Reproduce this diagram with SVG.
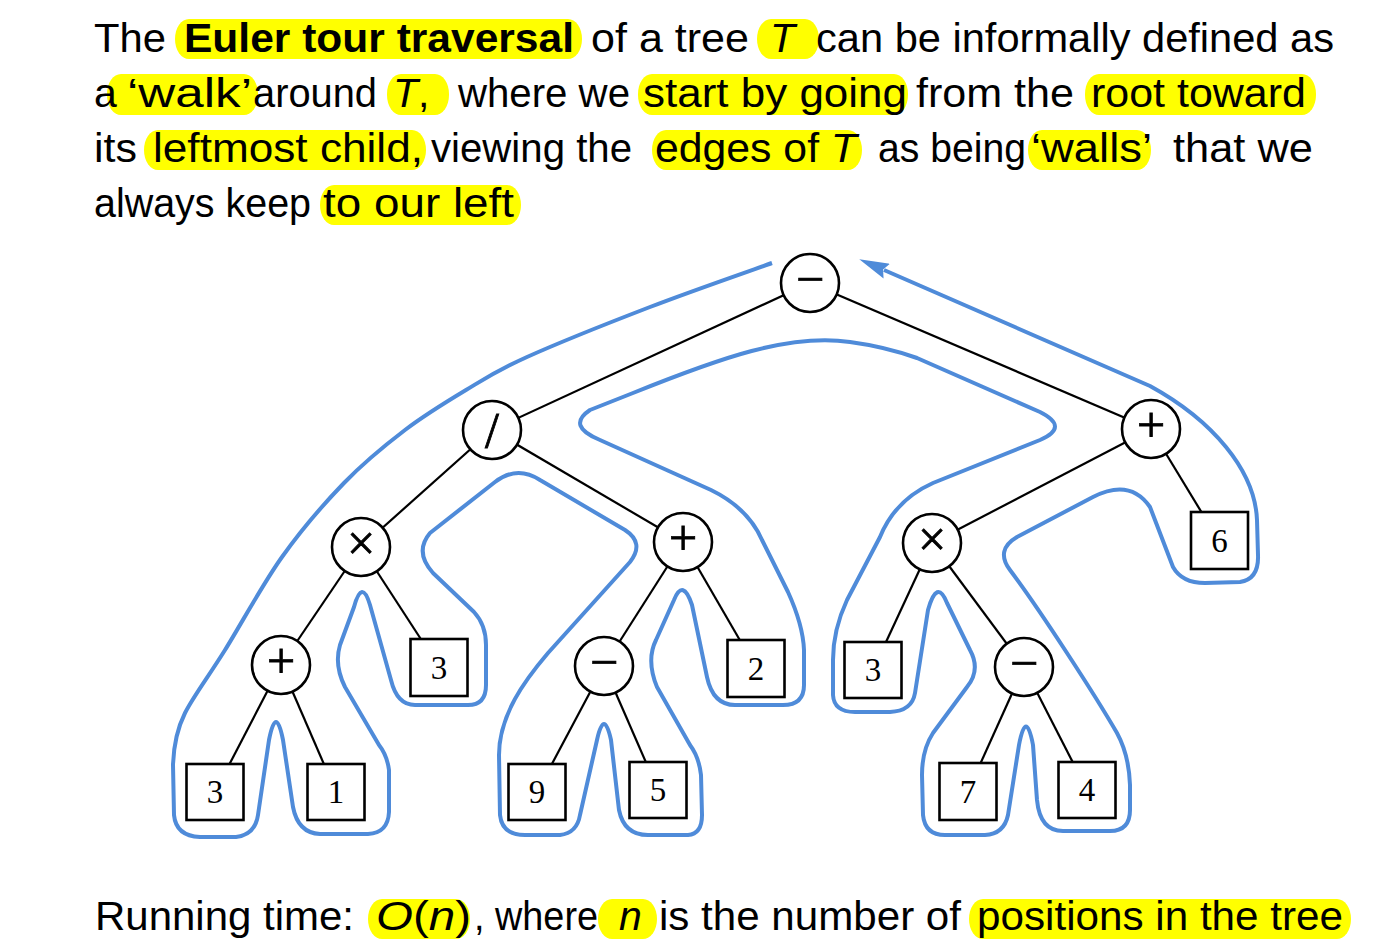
<svg xmlns="http://www.w3.org/2000/svg" width="1397" height="944" viewBox="0 0 1397 944">
<style>
.t{font-family:"Liberation Sans",Arial,sans-serif;font-size:41px;fill:#000}
.b{font-weight:bold}
.i{font-style:italic}
.hl{fill:#ffff00}
.edge{stroke:#000;stroke-width:2.2;fill:none}
.nd{fill:#fff;stroke:#000;stroke-width:2.6}
.op{font-family:"Liberation Serif","Times New Roman",serif;font-size:50px;text-anchor:middle;fill:#000;stroke:#000;stroke-width:0.8}
.num{font-family:"Liberation Serif","Times New Roman",serif;font-size:33px;text-anchor:middle;fill:#000}
.tour{fill:none;stroke:#4f8bd9;stroke-width:4;stroke-linejoin:round;stroke-linecap:butt}
</style>
<defs>
<marker id="arr" markerUnits="userSpaceOnUse" markerWidth="30" markerHeight="16" viewBox="0 0 30 16" refX="3" refY="8" orient="auto">
<path d="M0,0 L30,8 L0,16 L4,8 Z" fill="#4f8bd9"/>
</marker>
</defs>
<rect width="1397" height="944" fill="#fff"/>
<g id="highlights">
<rect class="hl" x="175" y="19" width="407" height="40" rx="14" ry="20"/>
<rect class="hl" x="757" y="19" width="62" height="40" rx="14" ry="20"/>
<rect class="hl" x="107" y="74" width="151" height="41" rx="14" ry="20"/>
<rect class="hl" x="387" y="74" width="62" height="41" rx="14" ry="20"/>
<rect class="hl" x="638" y="74" width="270" height="41" rx="14" ry="20"/>
<rect class="hl" x="1085" y="74" width="231" height="41" rx="14" ry="20"/>
<rect class="hl" x="144" y="130" width="282" height="40" rx="14" ry="20"/>
<rect class="hl" x="652" y="130" width="210" height="40" rx="14" ry="20"/>
<rect class="hl" x="1028" y="130" width="123" height="40" rx="14" ry="20"/>
<rect class="hl" x="320" y="185" width="201" height="40" rx="14" ry="20"/>
<rect class="hl" x="368" y="899" width="102" height="40" rx="14" ry="20"/>
<rect class="hl" x="598" y="899" width="59" height="40" rx="14" ry="20"/>
<rect class="hl" x="969" y="899" width="382" height="40" rx="14" ry="20"/>
</g>
<g id="text">
<text class="t" x="94" y="52" textLength="72" lengthAdjust="spacingAndGlyphs">The</text>
<text class="t b" x="184" y="52" textLength="390" lengthAdjust="spacingAndGlyphs">Euler tour traversal</text>
<text class="t" x="591" y="52" textLength="158" lengthAdjust="spacingAndGlyphs">of a tree</text>
<text class="t i" x="770" y="52">T</text>
<text class="t" x="816" y="52" textLength="518" lengthAdjust="spacingAndGlyphs">can be informally defined as</text>

<text class="t" x="94" y="107">a</text>
<text class="t" x="127" y="107" textLength="125" lengthAdjust="spacingAndGlyphs">‘walk’</text>
<text class="t" x="253" y="107" textLength="124" lengthAdjust="spacingAndGlyphs">around</text>
<text class="t" x="393" y="107"><tspan class="i">T</tspan>,</text>
<text class="t" x="458" y="107" textLength="172" lengthAdjust="spacingAndGlyphs">where we</text>
<text class="t" x="643" y="107" textLength="264" lengthAdjust="spacingAndGlyphs">start by going</text>
<text class="t" x="916" y="107" textLength="158" lengthAdjust="spacingAndGlyphs">from the</text>
<text class="t" x="1091" y="107" textLength="215" lengthAdjust="spacingAndGlyphs">root toward</text>

<text class="t" x="94" y="162" textLength="43" lengthAdjust="spacingAndGlyphs">its</text>
<text class="t" x="153" y="162" textLength="270" lengthAdjust="spacingAndGlyphs">leftmost child,</text>
<text class="t" x="431" y="162" textLength="201" lengthAdjust="spacingAndGlyphs">viewing the</text>
<text class="t" x="655" y="162" textLength="202" lengthAdjust="spacingAndGlyphs">edges of <tspan class="i">T</tspan></text>
<text class="t" x="878" y="162" textLength="148" lengthAdjust="spacingAndGlyphs">as being</text>
<text class="t" x="1031" y="162" textLength="121" lengthAdjust="spacingAndGlyphs">‘walls’</text>
<text class="t" x="1173" y="162" textLength="140" lengthAdjust="spacingAndGlyphs">that we</text>

<text class="t" x="94" y="217" textLength="217" lengthAdjust="spacingAndGlyphs">always keep</text>
<text class="t" x="323" y="217" textLength="191" lengthAdjust="spacingAndGlyphs">to our left</text>

<text class="t" x="95" y="930" textLength="259" lengthAdjust="spacingAndGlyphs">Running time:</text>
<text class="t" x="376" y="930" textLength="95" lengthAdjust="spacingAndGlyphs"><tspan class="i">O</tspan>(<tspan class="i">n</tspan>)</text>
<text class="t" x="474" y="930" textLength="124" lengthAdjust="spacingAndGlyphs">, where</text>
<text class="t i" x="619" y="930">n</text>
<text class="t" x="659" y="930" textLength="302" lengthAdjust="spacingAndGlyphs">is the number of</text>
<text class="t" x="977" y="930" textLength="366" lengthAdjust="spacingAndGlyphs">positions in the tree</text>
</g>
<g id="connectors">
<line class="edge" x1="810" y1="283" x2="492" y2="430"/>
<line class="edge" x1="810" y1="283" x2="1151" y2="429"/>
<line class="edge" x1="492" y1="430" x2="361" y2="547"/>
<line class="edge" x1="492" y1="430" x2="683" y2="542"/>
<line class="edge" x1="361" y1="547" x2="281" y2="665"/>
<line class="edge" x1="361" y1="547" x2="439" y2="667"/>
<line class="edge" x1="281" y1="665" x2="215" y2="792"/>
<line class="edge" x1="281" y1="665" x2="336" y2="792"/>
<line class="edge" x1="683" y1="542" x2="604" y2="666"/>
<line class="edge" x1="683" y1="542" x2="756" y2="668"/>
<line class="edge" x1="604" y1="666" x2="537" y2="792"/>
<line class="edge" x1="604" y1="666" x2="658" y2="790"/>
<line class="edge" x1="1151" y1="429" x2="932" y2="543"/>
<line class="edge" x1="1151" y1="429" x2="1219" y2="541"/>
<line class="edge" x1="932" y1="543" x2="873" y2="670"/>
<line class="edge" x1="932" y1="543" x2="1024" y2="667"/>
<line class="edge" x1="1024" y1="667" x2="968" y2="791"/>
<line class="edge" x1="1024" y1="667" x2="1087" y2="790"/>
</g>
<g id="n-root"><circle class="nd" cx="810" cy="283" r="29"/><text class="op" x="810" y="296">−</text></g>
<g id="n-div"><circle class="nd" cx="492" cy="430" r="29"/><text class="op" x="492" y="447">/</text></g>
<g id="n-mulL"><circle class="nd" cx="361" cy="547" r="29"/><text class="op" x="361" y="560">×</text></g>
<g id="n-plusM"><circle class="nd" cx="683" cy="542" r="29"/><text class="op" x="683" y="555">+</text></g>
<g id="n-plusL"><circle class="nd" cx="281" cy="665" r="29"/><text class="op" x="281" y="678">+</text></g>
<g id="n-minusM"><circle class="nd" cx="604" cy="666" r="29"/><text class="op" x="604" y="679">−</text></g>
<g id="n-plusR"><circle class="nd" cx="1151" cy="429" r="29"/><text class="op" x="1151" y="442">+</text></g>
<g id="n-mulR"><circle class="nd" cx="932" cy="543" r="29"/><text class="op" x="932" y="556">×</text></g>
<g id="n-minusR"><circle class="nd" cx="1024" cy="667" r="29"/><text class="op" x="1024" y="680">−</text></g>
<g id="n-box3m"><rect class="nd" x="410.5" y="639" width="57" height="57"/><text class="num" x="439" y="679">3</text></g>
<g id="n-leaf3"><rect class="nd" x="186.5" y="764" width="57" height="56"/><text class="num" x="215" y="803">3</text></g>
<g id="n-leaf1"><rect class="nd" x="307.5" y="764" width="57" height="56"/><text class="num" x="336" y="803">1</text></g>
<g id="n-box2"><rect class="nd" x="727.5" y="640" width="57" height="57"/><text class="num" x="756" y="680">2</text></g>
<g id="n-box9"><rect class="nd" x="508.5" y="764" width="57" height="56"/><text class="num" x="537" y="803">9</text></g>
<g id="n-box5"><rect class="nd" x="629.5" y="762" width="57" height="56"/><text class="num" x="658" y="801">5</text></g>
<g id="n-box6"><rect class="nd" x="1191" y="512" width="57" height="57"/><text class="num" x="1219.5" y="552">6</text></g>
<g id="n-box3r"><rect class="nd" x="844.5" y="642" width="57" height="56"/><text class="num" x="873" y="681">3</text></g>
<g id="n-box7"><rect class="nd" x="939.5" y="763" width="57" height="57"/><text class="num" x="968" y="803">7</text></g>
<g id="n-box4"><rect class="nd" x="1058.5" y="762" width="57" height="56"/><text class="num" x="1087" y="801">4</text></g>
<g id="tour">
<path class="tour" marker-end="url(#arr)" d="M 772 263 C 751.7 270.3 690.8 291.3 650 307 C 609.2 322.7 557.7 343.2 527 357 C 496.3 370.8 486.3 377.8 466 390 C 445.7 402.2 425.3 414.5 405 430 C 384.7 445.5 364.5 461.8 344 483 C 323.5 504.2 301.8 529.2 282 557 C 262.2 584.8 241.2 624 225 650 C 208.8 676 193 697 185 713 Q 174 735 173 765 L 174 815 Q 176 836 200 837 L 236 837 Q 255 835 258 815 L 269 740 Q 276 704 283 740 L 293 807 Q 298 833 320 834 L 368 834 Q 388 833 389 812 L 389 770 Q 387 755 379 745 L 345 687 Q 334 665 340 645 L 354 607 Q 362 578 370 605 L 391 680 Q 397 705 415 705 L 468 705 Q 486 705 486 685 L 486 645 Q 486 625 474 612 L 433 573 Q 414 552 430 533 L 495 482 Q 517 465 540 480 L 625 530 Q 645 543 630 562 L 548 653 C 525 680 499 715 499 755 L 500 815 Q 502 835 525 835 L 560 835 Q 577 833 580 815 L 597 740 Q 604 708 611 740 L 619 810 Q 624 835 648 835 L 688 835 Q 702 834 702 815 L 701 775 Q 699 757 690 745 L 657 687 Q 646 660 656 640 L 674 600 Q 683 578 692 605 L 707 677 Q 713 705 735 705 L 783 705 Q 804 705 804 685 L 804 650 Q 803 625 788 592 L 762 540 Q 748 508 711 490 L 600 440 Q 566 426 590 410 L 633 393 C 720 358 790 333 850 342 C 880 346 900 352 917 358 L 1040 412 Q 1070 427 1040 440 L 933 483 Q 895 500 880 537 L 847 600 Q 833 630 833 660 L 833 695 Q 834 712 855 712 L 890 712 Q 912 711 915 693 L 928 610 Q 937 578 947 603 L 970 650 Q 981 670 967 687 L 933 733 Q 922 750 922 775 L 923 815 Q 925 835 945 835 L 985 835 Q 1004 834 1008 815 L 1019 745 Q 1026 708 1033 745 L 1037 800 Q 1040 831 1063 831 L 1110 831 Q 1130 831 1130 810 L 1130 785 Q 1129 755 1117 733 C 1095 695 1040 610 1010 570 Q 995 550 1017 537 L 1093 497 Q 1130 478 1150 507 L 1173 567 Q 1182 583 1205 583 L 1240 582 Q 1259 579 1258 555 L 1257 520 C 1255 470 1212 420 1150 386 L 884 270"/>
</g>
</svg>
